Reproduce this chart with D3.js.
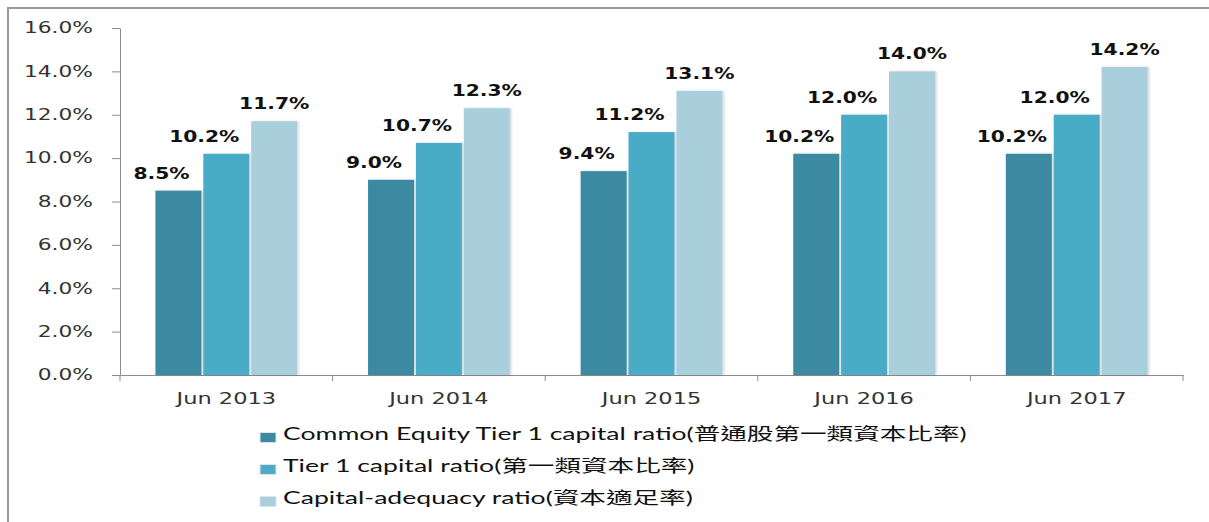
<!DOCTYPE html>
<html>
<head>
<meta charset="utf-8">
<script src="https://cdn.jsdelivr.net/npm/d3@7"></script>
<style>
  body { margin: 0; background: #fff; }
</style>
</head>
<body>
<script>
// values
const categories = ["Jun 2013", "Jun 2014", "Jun 2015", "Jun 2016", "Jun 2017"];
const seriesNames = [
  "Common Equity Tier 1 capital ratio(普通股第一類資本比率)",
  "Tier 1 capital ratio(第一類資本比率)",
  "Capital-adequacy ratio(資本適足率)"
];
const cet1 = [8.5, 9.0, 9.4, 10.2, 10.2];
const tier1 = [10.2, 10.7, 11.2, 12.0, 12.0];
const car = [11.7, 12.3, 13.1, 14.0, 14.2];
const yTicks = [0, 2, 4, 6, 8, 10, 12, 14, 16];
const colors = ["#3b8aa1", "#4aacc6", "#a9cfdd"];

const series = [cet1, tier1, car];
const width = 1209, height = 522;

// the original picture is stretched sideways, so the text is too
const stretchY = 1.45, stretchX = 1.5, stretchLabel = 1.35, stretchLegend = 1.52;
const labelShift = [-17, -22, 0];

const svg = d3.select("body").append("svg")
  .attr("width", width).attr("height", height);

// frame of the original picture
svg.append("path")
  .attr("d", "M8," + height + " V8 H" + width)
  .attr("fill", "none").attr("stroke", "#9a9a9a").attr("stroke-width", 2);

const defs = svg.append("defs");
const f = defs.append("filter").attr("id", "shadow")
  .attr("x", "-10%").attr("y", "-10%").attr("width", "130%").attr("height", "130%");
f.append("feDropShadow").attr("dx", 1.5).attr("dy", 0).attr("stdDeviation", 1.2)
  .attr("flood-color", "#000").attr("flood-opacity", 0.18);

const plotLeft = 120, plotRight = 1183, plotTop = 28, plotBottom = 375;

let x = d3.scaleBand().domain(categories).range([plotLeft, plotRight]).paddingInner(0).paddingOuter(0);
let x1 = d3.scaleBand().domain(d3.range(3)).range([0, x.bandwidth()]).paddingInner(0.04).paddingOuter(0.74);
let y = d3.scaleLinear().domain([0, 16]).range([plotBottom, plotTop]);

///////////////////////
// Axes
const yAxis = svg.append("g").attr("transform", "translate(" + plotLeft + ",0)")
  .call(d3.axisLeft(y).tickValues(yTicks).tickFormat(d => d.toFixed(1) + "%").tickSize(8).tickSizeOuter(0));
yAxis.select(".domain").attr("stroke", "#8c8c8c");
yAxis.selectAll(".tick line").attr("stroke", "#8c8c8c");
yAxis.selectAll(".tick text")
  .attr("x", -27 / stretchY)
  .attr("transform", "scale(" + stretchY + ",1)")
  .attr("font-family", "DejaVu Sans").attr("font-size", 15).attr("fill", "#333");

const xAxis = svg.append("g").attr("transform", "translate(0," + plotBottom + ")")
  .call(d3.axisBottom(x).tickSize(0).tickSizeOuter(0));
xAxis.select(".domain").attr("stroke", "#8c8c8c");
xAxis.selectAll(".tick text")
  .attr("dy", "1.05em").attr("y", 13)
  .attr("transform", "scale(" + stretchX + ",1)")
  .attr("font-family", "DejaVu Sans").attr("font-size", 15).attr("fill", "#333");

// category boundary ticks
svg.append("g").selectAll("line")
  .data(categories.concat(["end"]))
  .join("line")
  .attr("x1", (d, i) => i < categories.length ? x(d) : plotRight)
  .attr("x2", (d, i) => i < categories.length ? x(d) : plotRight)
  .attr("y1", plotBottom).attr("y2", plotBottom + 6)
  .attr("stroke", "#8c8c8c");

///////////////////////
// Bars
const groups = svg.append("g").selectAll("g")
  .data(categories).join("g")
  .attr("transform", d => "translate(" + x(d) + ",0)");

groups.selectAll("rect")
  .data((d, i) => series.map((s, k) => ({k: k, v: s[i]})))
  .join("rect")
  .attr("x", d => x1(d.k))
  .attr("y", d => y(d.v))
  .attr("width", x1.bandwidth())
  .attr("height", d => plotBottom - y(d.v))
  .attr("fill", d => colors[d.k])
  .attr("filter", "url(#shadow)");

groups.selectAll("text")
  .data((d, i) => series.map((s, k) => ({k: k, v: s[i]})))
  .join("text")
  .attr("transform", d => "translate(" + (x1(d.k) + x1.bandwidth() / 2 + labelShift[d.k]) + "," + (y(d.v) - 12) + ") scale(" + stretchLabel + ",1)")
  .attr("text-anchor", "middle")
  .attr("font-family", "DejaVu Sans").attr("font-weight", "bold").attr("font-size", 15)
  .attr("fill", "#111")
  .text(d => d.v.toFixed(1) + "%");

///////////////////////
// Legend
const legend = svg.append("g");
const ly = d3.scalePoint().domain(seriesNames).range([440, 504]);
legend.selectAll("rect").data(seriesNames).join("rect")
  .attr("x", 260).attr("y", d => ly(d) - 7.5)
  .attr("width", 16).attr("height", 10)
  .attr("fill", (d, i) => colors[i])
  .attr("stroke", "#e3e3e3").attr("stroke-width", 1);
legend.selectAll("text").data(seriesNames).join("text")
  .attr("transform", d => "translate(283," + ly(d) + ") scale(" + stretchLegend + ",1)")
  .attr("font-family", "Lato, 'Noto Sans CJK TC'").attr("font-size", 17.5).attr("fill", "#111")
  .text(d => d);
</script>
</body>
</html>
